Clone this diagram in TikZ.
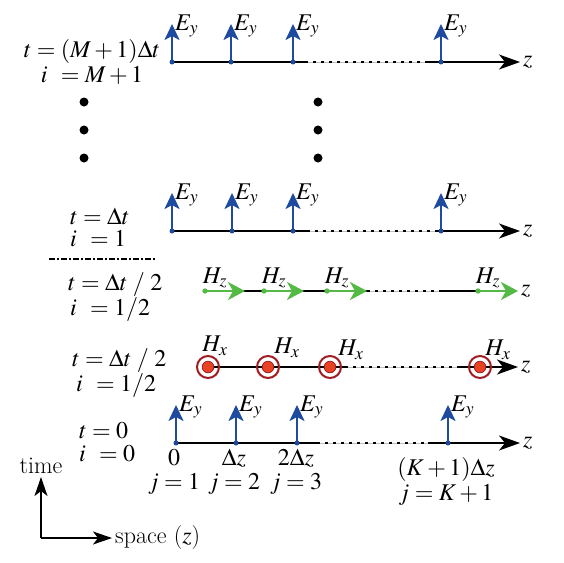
\documentclass[tikz,border=0pt]{standalone}
\usepackage{mathptmx}
\usetikzlibrary{arrows.meta}

\definecolor{eblue}{RGB}{30,75,160}
\definecolor{hgreen}{RGB}{85,185,70}
\definecolor{ringred}{RGB}{160,30,35}
\definecolor{dotred}{RGB}{232,68,35}

\tikzset{
  txt/.style={font=\fontsize{24}{28}\selectfont, inner sep=0pt},
  pair/.style={font=\fontsize{24}{#1}\selectfont, inner sep=0pt, align=left, anchor=west},
  axisline/.style={line width=1.8pt, -{Stealth[length=21pt,width=15pt,inset=6pt]}},
  plainline/.style={line width=1.8pt},
  gapline/.style={line width=1.8pt, dash pattern=on 3pt off 5pt},
  gapbase/.style={black!25, line width=0.8pt},
  efield/.style={eblue, line width=2.4pt, -{Stealth[length=16pt,width=15pt,inset=4pt]}},
  hzfield/.style={hgreen, line width=2.4pt, -{Stealth[length=17pt,width=18pt,inset=5pt]}},
  bigdot/.style={fill=black},
}

\begin{document}
\begin{tikzpicture}[x=1pt, y=-1pt, >=Stealth]
    \useasboundingbox (0,0) rectangle (564,562);

    % ===== RIGHE E_y =====
    \foreach \r/\yy/\xa/\xb/\xc/\xd/\ga/\gb in
        {top/62/172/231/293/441/305/425, one/231/172/232/293/441/307/435, zero/443/176/236/297/448/317/428} {
        \coordinate (\r-a) at (\ga,\yy);
        \coordinate (\r-b) at (\gb,\yy);
        \coordinate (\r-end) at (520,\yy);
        \foreach \x [count=\k] in {\xa,\xb,\xc,\xd} {
            \coordinate (e\r\k) at (\x,\yy);
            \coordinate (et\r\k) at (\x,\yy-38);
        }
        \draw[plainline] (e\r1) -- (\r-a);
        \draw[gapbase] (\r-a) -- (\r-b);
        \draw[gapline] (\r-a) -- (\r-b);
        \draw[axisline] (\r-b) -- (\r-end);
        \foreach \k in {1,...,4} {
            \draw[efield] (e\r\k) -- (et\r\k);
            \fill[eblue] (e\r\k) circle (2.5pt);
            \node[txt, anchor=west] (el\r\k) at ([xshift=3pt,yshift=-2pt]et\r\k) {$E_y$};
        }
        \node[txt, anchor=west] (z\r) at ([xshift=3pt]\r-end) {$z$};
    }

    % ===== RIGA H_z =====
    \def\yHz{291}
    \coordinate (hz-a) at (367,\yHz);
    \coordinate (hz-b) at (442,\yHz);
    \coordinate (hz-end) at (518,\yHz);
    \foreach \x [count=\k] in {205,264,327,478} {
        \coordinate (hz\k) at (\x,\yHz);
    }
    \coordinate (hzt1) at (245,\yHz);
    \coordinate (hzt2) at (304,\yHz);
    \coordinate (hzt3) at (367,\yHz);
    \coordinate (hzt4) at (hz-end);
    \draw[plainline] (hz1) -- (hz-a);
    \draw[gapbase] (hz-a) -- (hz-b);
    \draw[gapline] (hz-a) -- (hz-b);
    \draw[plainline] (hz-b) -- (hz4);
    \foreach \k/\dx in {1/10,2/10,3/10,4/10} {
        \draw[hzfield] (hz\k) -- (hzt\k);
        \fill[hgreen] (hz\k) circle (2.7pt);
        \node[txt] (hzl\k) at ([xshift=\dx pt, yshift=13pt]hz\k) {$H_z$};
    }
    \node[txt, anchor=west] (zhz) at ([xshift=3pt]hz-end) {$z$};

    % ===== RIGA H_x =====
    \def\yHx{367}
    \coordinate (hx-a) at (345,\yHx);
    \coordinate (hx-b) at (457,\yHx);
    \coordinate (hx-end) at (518,\yHx);
    \foreach \x [count=\k] in {208,268,330,480} {
        \coordinate (hx\k) at (\x,\yHx);
    }
    \draw[plainline] (hx1) -- (hx-a);
    \draw[gapbase] (hx-a) -- (hx-b);
    \draw[gapline] (hx-a) -- (hx-b);
    \draw[axisline] (hx-b) -- (hx-end);
    \foreach \k/\dx/\dy in {1/7/21,2/19/19,3/21/17,4/18/17} {
        \draw[ringred, line width=2pt] (hx\k) circle (11pt);
        \filldraw[fill=dotred, draw=ringred, line width=0.8pt] (hx\k) circle (5.8pt);
        \node[txt] (hxl\k) at ([xshift=\dx pt, yshift=\dy pt]hx\k) {$H_x$};
    }
    \node[txt, anchor=west] (zhx) at ([xshift=3pt]hx-end) {$z$};

    % ===== PUNTINI =====
    \foreach \x in {84,318} {
        \foreach \y in {102,130,158} {
            \fill[bigdot] (\x,\y) circle (4.5pt);
        }
    }

    % separatore
    \draw[line width=1.5pt, dash pattern=on 6pt off 2pt on 2pt off 2pt] (49,259) -- (155,259);

    % ===== ETICHETTE TEMPO =====
    \node[pair=25, align=center, anchor=center] (tM) at (92,62) {$t=(M+1)\Delta t$\\$i\;\,=M+1$};
    \node[pair=22] (tone) at (70,227) {$t=\Delta t$\\$i\;\,=1$};
    \node[pair=22] (thalfa) at (68,297) {$t=\Delta t\;\mathrm{/}\;2$\\\hspace{2pt}$i\;\,=\mathrm{1/2}$};
    \node[pair=21] (thalfb) at (72,373) {$t=\Delta t\;\mathrm{/}\;2$\\\hspace{4pt}$i\;\,=\mathrm{1/2}$};
    \node[pair=23] (tzero) at (79,442) {$t=0$\\$i\;\,=0$};

    % ===== ETICHETTE SPAZIO =====
    \node[pair=24, align=center, anchor=center] (jj1) at (174,472) {$0$\\$j=1$};
    \node[pair=24, align=center, anchor=center] (jj2) at (234,472) {$\Delta z$\\$j=2$};
    \node[pair=24, align=center, anchor=center] (jj3) at (296,472) {$2\Delta z$\\$j=3$};
    \node[pair=25, align=center, anchor=center] (jj4) at (446,481) {$(K+1)\Delta z$\\$j=K+1$};

    % ===== ASSI TEMPO/SPAZIO =====
    \coordinate (orig) at (41,538);
    \coordinate (tTip) at (41,477);
    \coordinate (sTip) at (112,538);
    \draw[line width=1.5pt, -{Stealth[length=19pt,width=13pt,inset=5pt]}] (orig) -- (tTip);
    \draw[line width=1.5pt, -{Stealth[length=19pt,width=13pt,inset=5pt]}] (orig) -- (sTip);
    \node[txt, anchor=south] (timeL) at ([yshift=3pt]tTip) {time};
    \node[txt, anchor=west] (spaceL) at ([xshift=3pt]sTip) {space ($z$)};
\end{tikzpicture}
\end{document}
